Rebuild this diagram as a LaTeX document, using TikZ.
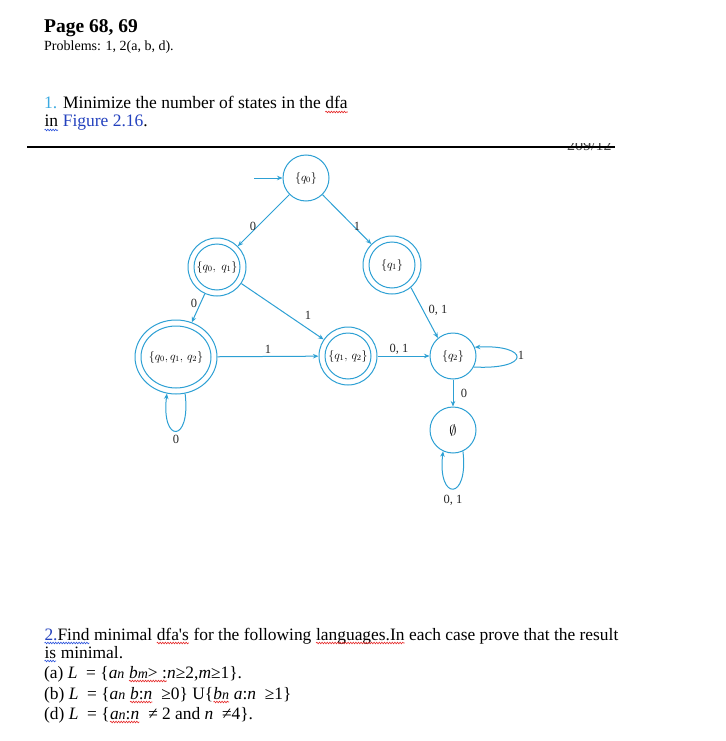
\documentclass[tikz,border=0pt]{standalone}
\usepackage{fontspec}
\setmainfont{Liberation Serif}[Ligatures=TeXOff]
\usetikzlibrary{arrows.meta,shapes.geometric,decorations.pathmorphing}
\definecolor{edgeblue}{RGB}{45,160,212}
\definecolor{numblue}{RGB}{60,170,225}
\definecolor{linkblue}{RGB}{35,65,190}
\definecolor{spellred}{RGB}{230,40,40}
\definecolor{gramblue}{RGB}{40,80,220}
\newcommand\wavy[2]{\begin{tikzpicture}[baseline=(w.base),x=1pt,y=1pt]\node[inner sep=0pt,outer sep=0pt,anchor=base west] (w) at (0,0) {#2};\draw[#1,line width=0.6pt,decorate,decoration={snake,amplitude=0.8pt,segment length=2.6pt}] ([yshift=-3pt]w.base west) -- ([yshift=-3pt]w.base east);\end{tikzpicture}}
\begin{document}
\begin{tikzpicture}[x=1pt,y=-1pt,
  txt/.style={anchor=base west, inner sep=0pt, font=\fontsize{17.4}{20}\selectfont},
  st/.style={circle, draw=edgeblue, line width=1pt, inner sep=0pt, font=\fontsize{11.5}{13}\selectfont},
  inring/.style={draw=edgeblue, line width=1pt},
  edgearr/.style={draw=edgeblue, line width=1pt, -{Stealth[length=5.5pt,width=4.5pt]}},
  lab/.style={font=\fontsize{12.5}{14}\selectfont, text=black!85, inner sep=0pt}]
\fill[white] (0,0) rectangle (725,741);
\useasboundingbox (0,0) rectangle (725,741);

% header texts
\node[txt, font=\bfseries\fontsize{19.5}{22}\selectfont] (title) at (44,33) {Page 68, 69};
\node[txt, font=\fontsize{14}{16}\selectfont] (probs) at (44,51) {Problems: 1, 2(a, b, d).};
\node[txt, font=\fontsize{17.5}{20}\selectfont] (p1a) at (44,109) {\textcolor{numblue}{1.} Minimize the number of states in the \wavy{spellred}{dfa}};
\node[txt, font=\fontsize{17.5}{20}\selectfont] (p1b) at (44,127) {\wavy{gramblue}{in} \textcolor{linkblue}{Figure 2.16}.};

% cut page number and rule
\begin{scope}
  \clip (560,143) rectangle (620,151);
  \node[txt, font=\fontsize{16}{18}\selectfont, text=black!75] (pgno) at (567,150) {209/12};
\end{scope}
\draw[line width=2.2pt] (27,147) -- (615,147);

% states
\node[st, minimum size=46pt] (q0) at (306,178) {$\{q_0\}$};
\node[st, minimum size=58pt] (q01) at (217,267) {$\{q_0,\; q_1\}$};
\draw[inring] (q01.center) circle[radius=23pt];
\node[st, minimum size=58pt] (q1) at (392,265) {$\{q_1\}$};
\draw[inring] (q1.center) circle[radius=23pt];
\node[st, ellipse, minimum width=82pt, minimum height=74pt] (q012) at (176,357) {$\{q_0, q_1,\, q_2\}$};
\draw[inring] (q012.center) ellipse[x radius=35pt, y radius=31pt];
\node[st, minimum size=58pt] (q12) at (348,356) {$\{q_1,\, q_2\}$};
\draw[inring] (q12.center) circle[radius=23pt];
\node[st, minimum size=46pt] (q2) at (453,356) {$\{q_2\}$};
\node[st, minimum size=46pt, font=\fontsize{15}{16}\selectfont] (e) at (453,430) {$\emptyset$};

% transitions
\coordinate (start) at (254,178);
\draw[edgearr] (start) -- (q0);
\draw[edgearr] (q0) -- (q01) node[lab] at (253,226) {0};
\draw[edgearr] (q0) -- (q1) node[lab] at (357,226) {1};
\draw[edgearr] (q01) -- (q012) node[lab] at (194,303) {0};
\draw[edgearr] (q01) -- (q12) node[lab] at (308,315) {1};
\draw[edgearr] (q012) -- (q12) node[lab] at (268,349) {1};
\draw[edgearr] (q1.-50) -- (q2.130) node[lab] at (438,310) {0, 1};
\draw[edgearr] (q12) -- (q2) node[lab] at (399,349) {0, 1};
\draw[edgearr] (q2) -- (e) node[lab] at (464,393) {0};
\draw[edgearr] (q2.-28) .. controls +(58,3) and +(55,-3) .. (q2.22) node[lab] at (521,355) {1};
\draw[edgearr] (e.-65) .. controls +(6,50) and +(-6,50) .. (e.-115) node[lab] at (453,500) {0, 1};
\draw[edgearr] (q012.-76) .. controls +(6,50) and +(-6,50) .. (q012.-104) node[lab] at (176,439) {0};

% problem 2
\node[txt] (p2a) at (44,640) {\wavy{gramblue}{\textcolor{linkblue}{2.}Find} minimal \wavy{spellred}{dfa's} for the following \wavy{spellred}{languages.In} each case prove that the result};
\node[txt] (p2b) at (44,658) {\wavy{gramblue}{is} minimal.};
\node[txt] (p2c) at (44,678) {(a) \textit{L} \ = \{\textit{a}{\fontsize{14}{15}\selectfont\textit{n}} \wavy{spellred}{\textit{b}{\fontsize{14}{15}\selectfont\textit{m}}{>}\ :}\textit{n}≥2,\textit{m}≥1\}.};
\node[txt] (p2d) at (44,699) {(b) \textit{L} \ = \{\textit{a}{\fontsize{14}{15}\selectfont\textit{n}} \wavy{spellred}{\textit{b}:\textit{n}} \ ≥0\} U\{\wavy{spellred}{\textit{b}{\fontsize{14}{15}\selectfont\textit{n}}} \textit{a}:\textit{n} \ ≥1\}};
\node[txt] (p2e) at (44,719) {(d) \textit{L} \ = \{\wavy{spellred}{\textit{a}{\fontsize{14}{15}\selectfont\textit{n}}:\textit{n}} \ ≠ 2 and \textit{n} \ ≠4\}.};
\end{tikzpicture}
\end{document}
